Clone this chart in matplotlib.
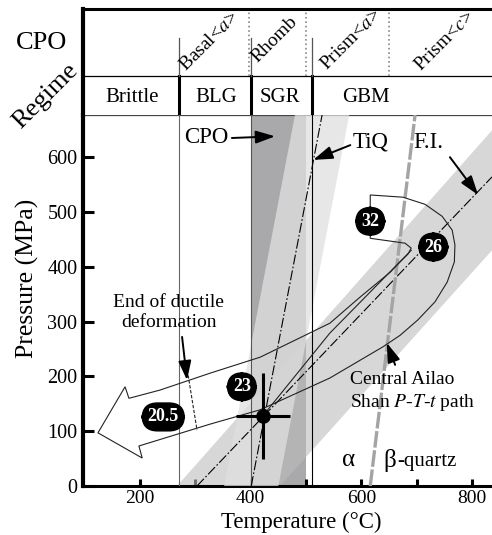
import matplotlib.pyplot as plt
from matplotlib.patches import Polygon

plt.rcParams['font.family'] = ['Liberation Serif', 'DejaVu Serif']
plt.rcParams['mathtext.fontset'] = 'stix'

# axis ranges (degC, MPa)
t_lim = (97, 836)
p_lim = (0, 677)

# header: regimes and CPO slip systems
regime_bounds = [270, 400, 510]
regime_names = ['Brittle', 'BLG', 'SGR', 'GBM']
regime_pos = [186, 337, 453, 608]
cpo_bounds = [397, 500, 650]
cpo_names = [r'Basal<$a$>', 'Rhomb', r'Prism<$a$>', r'Prism<$c$>']
cpo_pos = [325, 443, 582, 750]
cpo_y = [0.69, 0.71, 0.71, 0.70]

# shaded bands
cpo_band = (400, 500)
tiq_band_T = [352, 480, 578, 450]
tiq_band_P = [0, 677, 677, 0]
fi_band_T = [267, 836, 836, 453]
fi_band_P = [0, 649, 430, 0]

# lines
tiq_T = [401, 529]
tiq_P = [0, 677]
fi_T = [303, 836]
fi_P = [0, 564]
ab_T = [616, 697]
ab_P = [0, 677]
ductile_T = [287, 303]
ductile_P = [202, 102]

# P-T-t path outline
path_T = [180, 173, 124, 204, 198, 327, 417, 543, 639, 670, 702, 733, 755, 768,
          769, 764, 746, 715, 675, 616, 616, 679, 690, 684, 670, 652, 598, 543,
          417, 327, 236]
path_P = [160, 181, 97, 51, 73, 113, 139, 197, 254, 275, 303, 336, 372, 409,
          440, 467, 492, 514, 527, 531, 452, 443, 434, 423, 409, 390, 345, 297,
          235, 206, 175]
inner_T = [690, 543, 422]
inner_P = [430, 279, 128]

# samples (Ma)
sample_labels = ['32', '26', '23', '20.5']
sample_T = [616, 730, 384, 242]
sample_P = [483, 436, 181, 126]
est_T, est_P = 422, 128
est_Terr, est_Perr = 49, 78

fig = plt.figure(figsize=(4.92, 5.35), dpi=100)
ax = fig.add_axes([0.1687, 0.0916, 0.8313, 0.6935])
axh = fig.add_axes([0.1687, 0.785, 0.8313, 0.1981])

# bands
ax.axvspan(*cpo_band, color='#a9a9ab', lw=0, zorder=1)
ax.add_patch(Polygon(list(zip(fi_band_T, fi_band_P)), closed=True, fc='#bdbdbd',
                     alpha=0.6, lw=0, zorder=2))
ax.add_patch(Polygon(list(zip(tiq_band_T, tiq_band_P)), closed=True, fc='#e0e0e0',
                     alpha=0.75, lw=0, zorder=3))

# vertical regime lines
ax.axvline(270, color='#666666', lw=0.8, zorder=4)
ax.axvline(400, color='#555555', lw=0.8, zorder=4)
ax.axvline(510, color='black', lw=0.8, zorder=4)

dashdot = (0, (9, 2, 1.5, 2))
ax.plot(tiq_T, tiq_P, color='black', lw=0.8, ls=dashdot, zorder=5)
ax.plot(fi_T, fi_P, color='black', lw=0.8, ls=dashdot, zorder=5)
ax.plot(ab_T, ab_P, color='#a4a4a4', lw=2.4, ls=(0, (5, 0.8)), zorder=5)

ax.add_patch(Polygon(list(zip(path_T, path_P)), closed=True, fill=False,
                     ec='#222222', lw=0.8, zorder=6))
ax.plot(inner_T, inner_P, color='#222222', lw=0.8, zorder=6)
ax.plot(ductile_T, ductile_P, color='#222222', lw=0.8, ls=(0, (3, 1.5)), zorder=6)

# 23 Ma estimate
ax.errorbar(est_T, est_P, xerr=est_Terr, yerr=est_Perr, fmt='o', color='black',
            ms=9.5, elinewidth=2.2, capsize=0, zorder=8)

for lab, t, p in zip(sample_labels, sample_T, sample_P):
    ax.text(t, p, lab, color='white', fontsize=13, fontweight='bold', ha='center',
            va='center', zorder=9,
            bbox=dict(boxstyle='round,pad=0.3,rounding_size=0.85', fc='black', ec='black'))

arrow = dict(arrowstyle='-|>,head_length=0.9,head_width=0.3', color='black', lw=1.4,
             shrinkA=0, shrinkB=0, mutation_scale=13)
ax.annotate('', xy=(444, 638), xytext=(366, 635), arrowprops=arrow, zorder=9)
ax.text(359, 635, 'CPO', fontsize=16.5, ha='right', va='center', zorder=9)
ax.annotate('', xy=(513, 595), xytext=(580, 622), arrowprops=arrow, zorder=9)
ax.text(585, 627, 'TiQ', fontsize=16.5, ha='left', va='center', zorder=9)
ax.annotate('', xy=(811, 531), xytext=(760, 600), arrowprops=arrow, zorder=9)
ax.text(720, 627, 'F.I.', fontsize=16.5, ha='center', va='center', zorder=9)
ax.annotate('', xy=(646, 261), xytext=(661, 221), arrowprops=arrow, zorder=9)
ax.text(580, 171, 'Central Ailao\nShan $P$-$T$-$t$ path', fontsize=14, ha='left',
        va='center', linespacing=1.25, zorder=9)
ax.annotate('', xy=(285, 193), xytext=(276, 272), arrowprops=arrow, zorder=9)
ax.text(252, 317, 'End of ductile\ndeformation', fontsize=14, ha='center',
        va='center', linespacing=1.25, zorder=9)
ax.text(576, 47, 'α', fontsize=18, ha='center', va='center', zorder=9)
ax.text(639, 47, 'β', fontsize=18, ha='left', va='center', zorder=9)
ax.text(665, 45, '-quartz', fontsize=15, ha='left', va='center', zorder=9)

ax.set_xlim(*t_lim)
ax.set_ylim(*p_lim)
ax.set_yticks(range(0, 700, 100))
ax.set_xticks(range(200, 900, 100))
ax.set_xticklabels(['200', '', '400', '', '600', '', '800'])
ax.tick_params(axis='y', direction='in', length=8, width=2.2, labelsize=14.5, pad=4)
ax.tick_params(axis='x', direction='in', length=5, width=2.2, labelsize=14, pad=3)
ax.spines['left'].set_linewidth(3)
ax.spines['bottom'].set_linewidth(2.2)
ax.spines['top'].set_linewidth(0.9)
ax.spines['top'].set_color('#444444')
ax.spines['right'].set_visible(False)

# header table
axh.set_xlim(*t_lim)
axh.set_ylim(0, 1)
axh.set_xticks([])
axh.set_yticks([])
axh.spines['left'].set_linewidth(3)
axh.spines['top'].set_linewidth(2.2)
axh.spines['right'].set_visible(False)
axh.spines['bottom'].set_visible(False)
axh.axhline(0.368, color='black', lw=0.9)
for t in regime_bounds:
    axh.plot([t, t], [0, 0.368], color='black', lw=2.2)
    axh.plot([t, t], [0.368, 0.726], color='#555555', lw=0.9)
for t in cpo_bounds:
    axh.plot([t, t], [0.368, 1], color='#888888', lw=1.2, ls=':')
for name, t in zip(regime_names, regime_pos):
    axh.text(t, 0.17, name, fontsize=15, ha='center', va='center')
for name, t, y in zip(cpo_names, cpo_pos, cpo_y):
    axh.text(t, y, name, fontsize=14, ha='center', va='center', rotation=45,
             rotation_mode='anchor')

fig.text(42 / 492, 1 - 43 / 535, 'CPO', fontsize=19, ha='center', va='center')
fig.text(46 / 492, 1 - 96 / 535, 'Regime', fontsize=19, ha='center', va='center',
         rotation=45)
fig.text(27 / 492, 1 - 278 / 535, 'Pressure (MPa)', fontsize=18.5, ha='center',
         va='center', rotation=90)
fig.text(301 / 492, 1 - 522 / 535, 'Temperature (°C)', fontsize=16.5, ha='center',
         va='center')

fig.savefig('out.png', dpi=100)
